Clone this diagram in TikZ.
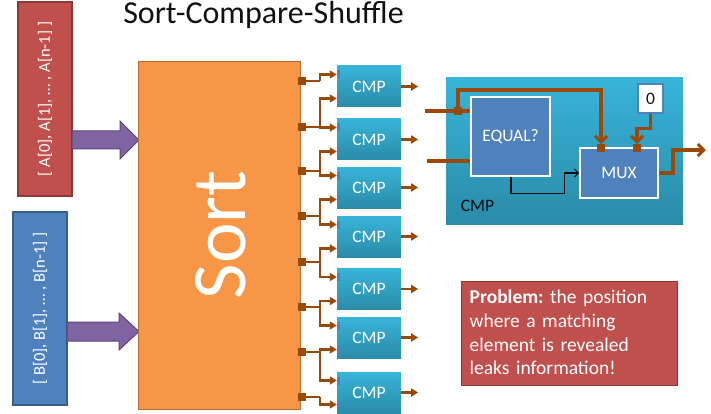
\documentclass[tikz,border=0pt]{standalone}
\usepackage{fontspec}
\setmainfont{Carlito}
\usetikzlibrary{arrows.meta,calc}

\definecolor{sortfill}{HTML}{F79646}
\definecolor{sortedge}{HTML}{B66D31}
\definecolor{redfill}{HTML}{C0504D}
\definecolor{rededge}{HTML}{8C3836}
\definecolor{bluefill}{HTML}{4F81BD}
\definecolor{blueedge}{HTML}{385D8A}
\definecolor{purplefill}{HTML}{8064A2}
\definecolor{purpleedge}{HTML}{5C4776}
\definecolor{wire}{HTML}{9A4A08}
\definecolor{tealtop}{HTML}{38B4D9}
\definecolor{tealbot}{HTML}{2A8BA8}
\definecolor{ink}{HTML}{111111}

\tikzset{
  txt/.style={font=\fontsize{17.5}{21}\selectfont},
  inputbox/.style={rotate=90, minimum height=54, inner sep=0pt, text=white,
    font=\fontsize{16.5}{20}\selectfont, line width=1.2pt},
  sortbox/.style={fill=sortfill, draw=sortedge, line width=1pt,
    minimum width=162, minimum height=347, inner sep=0pt},
  cmpbox/.style={top color=tealtop, bottom color=tealbot, draw=none,
    minimum width=64, minimum height=41, inner sep=0pt, text=white, txt},
  bigcmp/.style={top color=tealtop, bottom color=tealbot, draw=none,
    minimum width=237, minimum height=146, inner sep=0pt},
  unit/.style={fill=bluefill, draw=white, line width=1.8pt, inner sep=0pt,
    text=white, txt},
  port/.style={fill=bluefill, draw=none, minimum width=3, minimum height=8, inner sep=0pt},
  joint/.style={fill=wire, draw=none, minimum size=8, inner sep=0pt},
  wirearrow/.style={draw=wire, line width=2.6pt, -{Triangle[length=7pt,width=8pt]}},
  wireplain/.style={draw=wire, line width=2.6pt},
  fatwire/.style={draw=wire, line width=3.2pt},
  fatarrow/.style={draw=wire, line width=3.2pt, -{Straight Barb[length=6pt,width=12pt,line width=3pt]}},
  thinarrow/.style={draw=ink, line width=1.1pt, -{Straight Barb[length=4pt,width=8pt]}},
  blockarrow/.style={fill=purplefill, draw=purpleedge, line width=1pt, line join=miter},
}

\begin{document}
\begin{tikzpicture}[x=1pt,y=-1pt]
\useasboundingbox (0,0) rectangle (711,414);

% heading
\node[anchor=base, text=ink, font=\fontsize{32}{38}\selectfont] (title) at (263.5,24) {Sort-Compare-Shuffle};

% the two input arrays
\node[inputbox, fill=redfill, draw=rededge, minimum width=194] (arrA) at (45,99)
  {[ A[0], A[1], … , A[n-1] ]};
\node[inputbox, fill=bluefill, draw=blueedge, minimum width=193] (arrB) at (40,308.5)
  {[ B[0], B[1], … , B[n-1] ]};

% block arrows into the sorter
\filldraw[blockarrow] (72,131) -- (120,131) -- (120,121) -- (139,140) -- (120,159)
  -- (120,149) -- (72,149) -- cycle;
\filldraw[blockarrow] (67,322) -- (119,322) -- (119,313) -- (139,331.5) -- (119,350)
  -- (119,341) -- (67,341) -- cycle;

% sorter
\node[sortbox] (sort) at (219,235.5) {};
\node[rotate=90, text=white, font=\fontsize{77}{80}\selectfont, inner sep=0pt] (sortlabel) at (221,235) {Sort};

% comparators
\foreach \i/\y in {1/86.5, 2/139.5, 3/187.5, 4/236.5, 5/289, 6/337.5, 7/392.5} {
  \node[cmpbox] (c\i) at (369,\y) {CMP};
  \coordinate (c\i-in1) at ($(c\i.west)+(0,-12)$);
  \coordinate (c\i-in2) at ($(c\i.west)+(0,12)$);
  \node[port] (c\i-p1) at ($(c\i-in1)+(1.5,0)$) {};
  \node[port] (c\i-p2) at ($(c\i-in2)+(1.5,0)$) {};
  \draw[wirearrow] (c\i.east) -- ++(17,0) coordinate (c\i-out);
}

% sorter outputs and their fan-out
\coordinate (bx) at (320,0);
\foreach \k/\y in {1/81, 2/127, 3/171, 4/216, 5/262, 6/307, 7/352, 8/397} {
  \coordinate (o\k) at (300,\y);
  \draw[wireplain] (o\k) -- (o\k -| bx);
}
\draw[wirearrow] (o1 -| bx) |- (c1-in1);
\foreach \k [evaluate=\k as \j using int(\k-1)] in {2,...,7} {
  \draw[wirearrow] (o\k -| bx) |- (c\j-in2);
  \draw[wirearrow] (o\k -| bx) |- (c\k-in1);
}
\draw[wirearrow] (o8 -| bx) |- (c7-in2);
\foreach \k in {1,...,8} \node[joint] (q\k) at ($(o\k)+(1.5,0)$) {};

% inside one comparator
\node[bigcmp] (cmpbig) at (564.5,151) {};
\node[txt, text=ink] (cmplabel) at (477.5,206) {CMP};
\node[unit, minimum width=79, minimum height=79] (eq) at (510.5,136.5) {EQUAL?};
\node[unit, minimum width=78, minimum height=50] (mux) at (619,173) {MUX};
\node[fill=white, draw=bluefill, line width=1.5pt, minimum width=25, minimum height=29,
  inner sep=0pt, txt, text=ink] (zero) at (650.5,98.5) {0};

\coordinate (in1) at (425,111);
\coordinate (in2) at (427,161);
\coordinate (jn) at (458,111);
\coordinate (mp1) at (601,148);
\coordinate (mp2) at (637,148);

\draw[fatwire] (in1) -- (eq.west |- in1);
\draw[fatwire] (in2) -- (eq.west |- in2);
\draw[fatarrow, shorten >=4pt] (jn) |- ($(mp1)+(0,-58)$) -- (mp1);
\draw[fatarrow, shorten >=4pt] (zero.south) -- ++(0,15) -| (mp2);
\draw[thinarrow] (eq.south -| 511,0) -- ++(0,17) -| ($(mux.west)+(-15,0)$) -- (mux.west);
\draw[fatarrow] (mux.east) -- ++(14,0) -- ++(0,-23) -- ++(33,0) coordinate (muxout);

\node[joint] (jq) at (jn) {};
\node[joint] (mq1) at (mp1) {};
\node[joint] (mq2) at (mp2) {};

% remark
\node[fill=redfill, draw=rededge, line width=1pt, minimum width=216, minimum height=104,
  inner sep=0pt, outer sep=0pt] (problem) at (569,333) {};
\node[anchor=west, text width=185, inner sep=0pt, align=left, text=white,
  font=\fontsize{19.5}{23.7}\selectfont] (problemtext) at ($(problem.west)+(8.5,-0.5)$)
  {\frenchspacing\hyphenpenalty=10000\exhyphenpenalty=10000
   \textbf{Problem:} the position where a matching element is revealed leaks information!};
\end{tikzpicture}
\end{document}
